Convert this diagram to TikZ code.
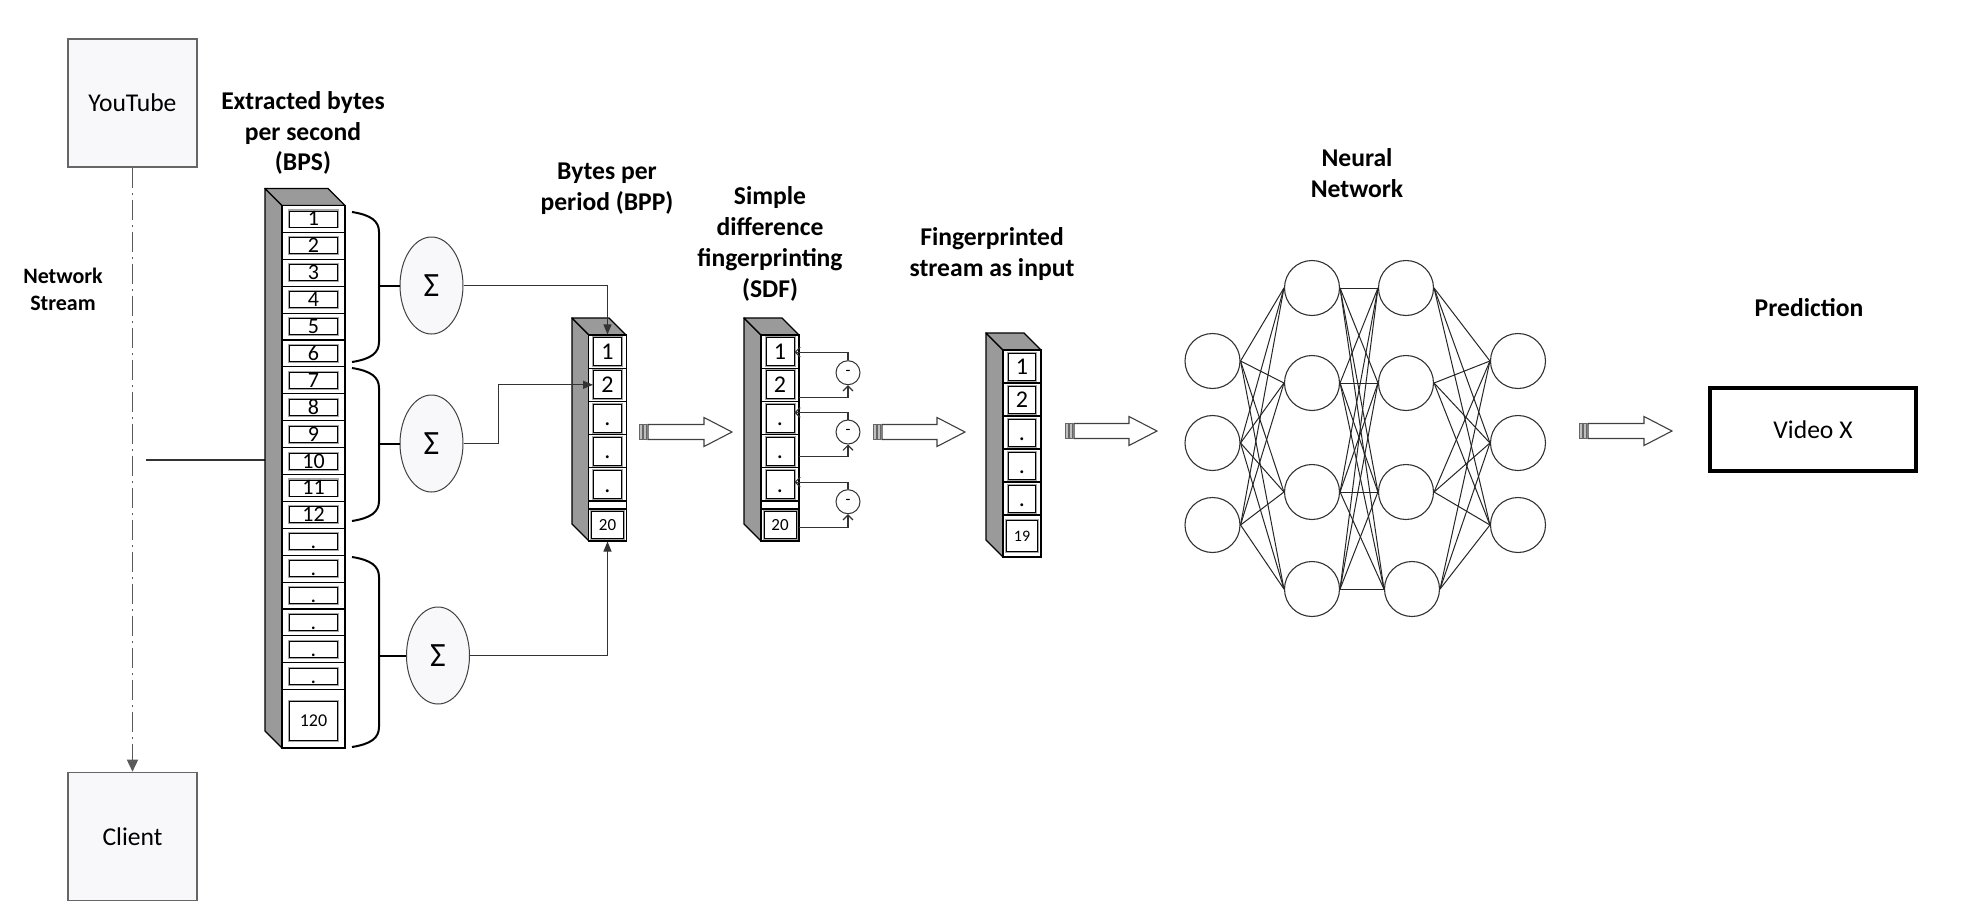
\documentclass[tikz,border=0pt]{standalone}
\usepackage{fontspec}
\setmainfont{Carlito}
\usetikzlibrary{arrows.meta,calc,shapes.geometric}
\definecolor{sideg}{HTML}{9A9A9A}
\definecolor{shadeC}{HTML}{F8F8FB}
\newcommand\drawprism[5]{%
  \draw[colside] (#1-#5,#3-#5) -- (#1-#5,#4-#5) -- (#1,#4) -- (#1,#3) -- cycle;
  \draw[colside] (#1-#5,#3-#5) -- (#2-#5,#3-#5) -- (#2,#3) -- (#1,#3) -- cycle;
  \draw[colfront] (#1,#3) rectangle (#2,#4);}
\newcommand\drawhollow[3]{%
  \draw[stripe] (#1,#2-7.5) rectangle (#1+3,#2+7.5);
  \draw[stripe] (#1+4.5,#2-7.5) rectangle (#1+7.5,#2+7.5);
  \draw[harrow] (#1+9,#2-7.5) -- (#3-28,#2-7.5) -- (#3-28,#2-14.5) -- (#3,#2) -- (#3-28,#2+14.5) -- (#3-28,#2+7.5) -- (#1+9,#2+7.5) -- cycle;}
\newcommand\bpsbrace[2]{%
  \draw[bracestyle] (352,#1) .. controls (371,#1+3) and (379,#1+9) .. (379,#1+20) -- (379,#2-20) .. controls (379,#2-9) and (371,#2-3) .. (352,#2);}
\begin{document}
\begin{tikzpicture}[x=0.5pt,y=-0.5pt,
  colside/.style={fill=sideg, draw=black, line width=0.7pt, line join=round},
  colfront/.style={fill=white, draw=black, line width=0.8pt},
  cellbox/.style={rectangle, draw=black, line width=0.55pt, fill=white, inner sep=0pt},
  inbox/.style={rectangle, draw=black, line width=0.45pt, preaction={draw=black!35, line width=1.5pt}, fill=white, inner sep=0pt},
  bpscell/.style={cellbox, minimum width=31.5pt, minimum height=13.45pt},
  bpsnum/.style={inbox, minimum width=24pt, minimum height=8pt, font=\fontsize{11}{11}\selectfont, text height=7pt, text depth=0pt},
  smallcell/.style={cellbox, minimum width=18.75pt, minimum height=16.6pt},
  bppnum/.style={inbox, minimum width=14pt, minimum height=14pt, font=\fontsize{12}{12}\selectfont, text height=7.6pt, text depth=0pt},
  tinynum/.style={inbox, font=\fontsize{8.5}{8.5}\selectfont, text height=5.4pt, text depth=0pt},
  lbl/.style={font=\fontsize{12.8}{15.4}\selectfont\bfseries, align=center, inner sep=0pt},
  endbox/.style={rectangle, draw=black!60, line width=0.8pt, fill=shadeC, minimum width=64.5pt, minimum height=64pt, font=\fontsize{12.8}{15}\selectfont},
  sumnode/.style={ellipse, draw=black!75, line width=0.5pt, fill=shadeC, minimum width=31.5pt, minimum height=48.5pt, inner sep=0pt, font=\fontsize{17}{17}\selectfont},
  minusnode/.style={circle, draw=black!80, line width=0.5pt, fill=white, minimum size=12pt, inner sep=0pt, font=\fontsize{8}{8}\selectfont},
  neuron/.style={circle, draw=black!80, line width=0.55pt, fill=white, minimum size=27.5pt, inner sep=0pt},
  nnline/.style={draw=black!85, line width=0.5pt},
  thinline/.style={draw=black!80, line width=0.55pt},
  arr/.style={thinline, -{Triangle[length=5pt,width=4pt]}},
  sarr/.style={thinline, -{Straight Barb[length=2.5pt,width=5pt]}},
  bracestyle/.style={draw=black, line width=1pt},
  dashdot/.style={draw=black!65, line width=0.75pt, dash pattern=on 10pt off 2.5pt on 1pt off 2.5pt, -{Triangle[length=6pt,width=5.5pt]}},
  stripe/.style={draw=black!60, fill=black!25, line width=0.4pt},
  harrow/.style={draw=black!75, fill=white, line width=0.55pt, line join=miter},
  vbox/.style={rectangle, draw=black, line width=2.2pt, minimum width=102.8pt, minimum height=41.3pt, font=\fontsize{12.8}{15}\selectfont}
]
\useasboundingbox (0,0) rectangle (1978,916);
\fill[white] (0,0) rectangle (1978,916);

% end points
\node[endbox] (yt) at (132.5,103) {YouTube};
\node[endbox] (cl) at (132.5,836.5) {Client};
\draw[dashdot] (yt.south) -- (cl.north);
\node[lbl, font=\fontsize{11}{13.5}\selectfont\bfseries] (nslbl) at (63,289) {Network\\Stream};
\coordinate (nsL) at (146,460);
\coordinate (bpsL) at (265,460);
\draw[thinline] (nsL) -- (bpsL);

% labels
\node[lbl] (tbps) at (303,133) {Extracted bytes\\per second\\(BPS)};
\node[lbl] (tbpp) at (607,189) {Bytes per\\period (BPP)};
\node[lbl] (tsdf) at (770,244) {Simple\\difference\\fingerprinting\\(SDF)};
\node[lbl] (tfp) at (992,254) {Fingerprinted\\stream as input};
\node[lbl] (tnn) at (1357,173) {Neural\\Network};
\node[lbl] (tpred) at (1809,308) {Prediction};

% BPS column
\drawprism{282}{345}{205.5}{748}{17}
\foreach \i in {1,...,18} {
  \node[bpscell] (b\i) at (313.5,{205.5+(\i-0.5)*26.9}) {};
  \node[bpsnum] (bi\i) at (b\i) {\ifnum\i<13 \i\else.\fi};
}
\node[bpscell, minimum height=29.15pt] (b19) at (313.5,718.85) {};
\node[inbox, minimum width=24pt, minimum height=19.5pt, font=\fontsize{9}{9}\selectfont, text height=5.8pt, text depth=0pt] (bi19) at (313.5,721) {120};

% braces and sums
\bpsbrace{212}{362}
\bpsbrace{368}{521}
\bpsbrace{557}{747}
\node[sumnode] (sum1) at (431.5,285.5) {Σ};
\node[sumnode] (sum2) at (431.5,443.5) {Σ};
\node[sumnode] (sum3) at (438,655.5) {Σ};
\coordinate (bt1) at (379,285.5);
\coordinate (bt2) at (379,443.5);
\coordinate (bt3) at (379,655.5);
\draw[bracestyle] (bt1) -- (sum1.west);
\draw[bracestyle] (bt2) -- (sum2.west);
\draw[bracestyle] (bt3) -- (sum3.west);

% BPP column
\drawprism{589}{626}{335}{541}{17}
\foreach \k/\t in {1/1,2/2,3/.,4/.,5/.} {
  \node[smallcell] (p\k) at (607.5,{335+(\k-0.5)*33.2}) {};
  \node[bppnum] (pi\k) at (p\k) {\t};
}
\node[smallcell, minimum height=4pt] (pstrip) at (607.5,505) {};
\node[smallcell, minimum height=16pt] (p20) at (607.5,525) {};
\node[tinynum, minimum width=16pt, minimum height=13.5pt] (pi20) at (p20) {20};

\draw[arr] (sum1.east) -| (p1.north);
\draw[arr] (sum2.east) -- ++(35,0) |- (pi2.west);
\draw[arr] (sum3.east) -| (p20.south);

% SDF column
\drawprism{761}{799}{335}{541}{17}
\foreach \k/\t in {1/1,2/2,3/.,4/.,5/.} {
  \node[smallcell] (s\k) at (780,{335+(\k-0.5)*33.2}) {};
  \node[bppnum] (si\k) at (s\k) {\t};
}
\node[smallcell, minimum height=4pt] (sstrip) at (780,505) {};
\node[smallcell, minimum height=16pt] (s20) at (780,525) {};
\node[tinynum, minimum width=16pt, minimum height=13.5pt] (si20) at (s20) {20};

\node[minusnode] (m1) at (848,372.7) {-};
\node[minusnode] (m2) at (848,432) {-};
\node[minusnode] (m3) at (848,501.7) {-};
\draw[sarr] (m1.north) -- ++(0,-8) coordinate (t1) -- (t1 -| si1.east);
\draw[sarr] (m2.north) -- ++(0,-7) coordinate (t2) -- (t2 -| si3.east);
\draw[sarr] (m3.north) -- ++(0,-7) coordinate (t3) -- (t3 -| si5.east);
\coordinate (u1) at ($(m1.south)+(0,12)$);
\coordinate (u2) at ($(m2.south)+(0,12)$);
\coordinate (u3) at ($(m3.south)+(0,13)$);
\draw[sarr] (s2.east |- u1) -| (m1.south);
\draw[sarr] (s4.east |- u2) -| (m2.south);
\draw[sarr] (s20.east |- u3) -| (m3.south);

% Fingerprinted column
\drawprism{1003}{1041}{350}{557}{17}
\foreach \k/\t in {1/1,2/2,3/.,4/.,5/.} {
  \node[smallcell, minimum height=16.5pt] (f\k) at (1022,{350+(\k-0.5)*33}) {};
  \node[bppnum, minimum width=13.5pt, minimum height=13.5pt] (fi\k) at (f\k) {\t};
}
\node[smallcell, minimum height=21pt] (f19) at (1022,536) {};
\node[tinynum, font=\fontsize{8}{8}\selectfont, text height=5.1pt, minimum width=15.5pt, minimum height=15.8pt] (fi19) at (f19) {19};

% hollow arrows
\drawhollow{639}{432}{732}
\drawhollow{873}{432}{965}
\drawhollow{1065}{431}{1157}
\drawhollow{1579}{431}{1672}

% neural network
\foreach \i/\y in {1/361,2/443,3/525} \node[neuron] (in\i) at (1212.5,\y) {};
\foreach \i/\y in {1/288,2/383,3/492,4/589} \node[neuron] (ha\i) at (1312,\y) {};
\foreach \i/\x/\y in {1/1406/288,2/1406/383,3/1406/492,4/1412/589} \node[neuron] (hb\i) at (\x,\y) {};
\foreach \i/\y in {1/361,2/443,3/525} \node[neuron] (out\i) at (1518,\y) {};
\foreach \i in {1,2,3} \foreach \j in {1,...,4} \draw[nnline] (in\i.east) -- (ha\j.west);
\foreach \i in {1,...,4} \foreach \j in {1,...,4} \draw[nnline] (ha\i.east) -- (hb\j.west);
\foreach \i in {1,...,4} \foreach \j in {1,2,3} \draw[nnline] (hb\i.east) -- (out\j.west);

% prediction
\node[vbox] (vx) at (1813,429.5) {Video X};
\end{tikzpicture}
\end{document}
